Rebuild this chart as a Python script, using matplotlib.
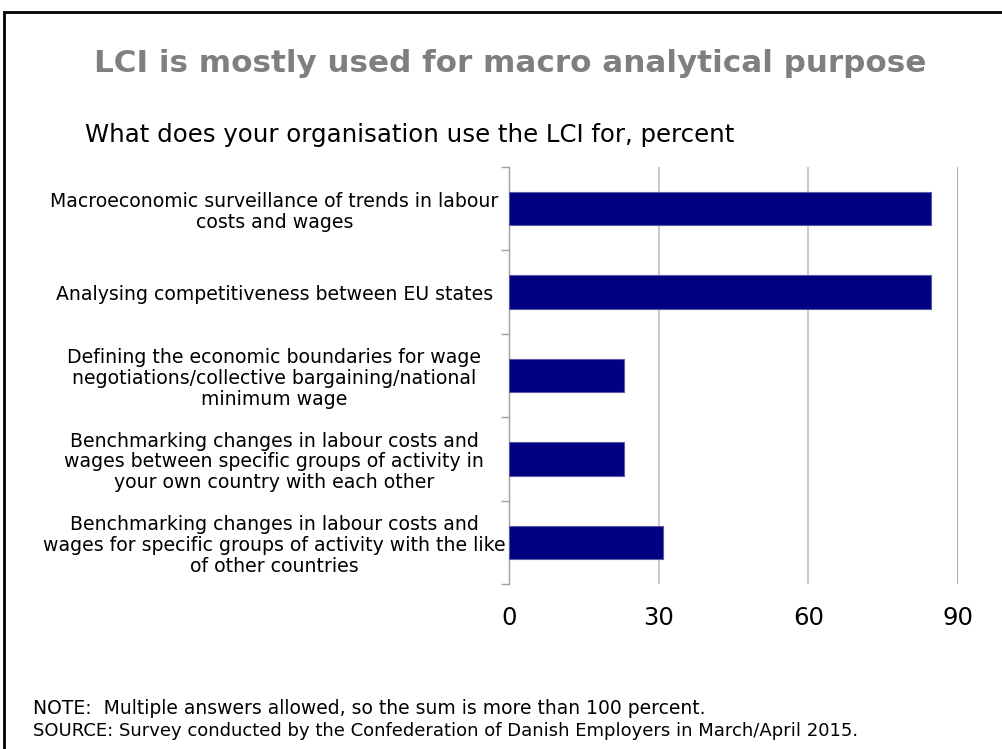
import matplotlib.pyplot as plt
from matplotlib.patches import Rectangle
import numpy as np

# survey answers, percent of respondents
categories = [
    "Macroeconomic surveillance of trends in labour\ncosts and wages",
    "Analysing competitiveness between EU states",
    "Defining the economic boundaries for wage\nnegotiations/collective bargaining/national\nminimum wage",
    "Benchmarking changes in labour costs and\nwages between specific groups of activity in\nyour own country with each other",
    "Benchmarking changes in labour costs and\nwages for specific groups of activity with the like\nof other countries",
]
values = [84.6, 84.6, 23.1, 23.1, 30.8]
x_ticks = [0, 30, 60, 90]

fig = plt.figure(figsize=(10.02, 7.49), dpi=100)
W, H = 1002, 749

# frame round the slide
fig.add_artist(Rectangle((4 / W, -0.1), 1.2, (H - 12) / H + 0.1, transform=fig.transFigure,
                         fill=False, edgecolor="black", linewidth=2))

fig.text(510 / W, 1 - 63 / H, "LCI is mostly used for macro analytical purpose",
         ha="center", va="center", fontsize=22.3, fontweight="bold", color="#7f7f7f")
fig.text(85 / W, 1 - 135 / H, "What does your organisation use the LCI for, percent",
         ha="left", va="center", fontsize=17.6, color="black")

ax = fig.add_axes([509 / W, 1 - 584 / H, (958 - 509) / W, (584 - 167) / H])
y = np.arange(len(categories))
ax.barh(y, values, height=0.4, color="#000080", edgecolor="#5a5aa8", linewidth=0.8, zorder=3)
ax.set_ylim(len(categories) - 0.5, -0.5)
ax.set_xlim(0, 90)

ax.set_xticks(x_ticks)
ax.set_xticklabels([str(t) for t in x_ticks], fontsize=17.5)
ax.tick_params(axis="x", length=0, pad=16)
ax.set_yticks(y)
ax.set_yticklabels(categories, fontsize=13.6, ha="center", multialignment="center",
                   linespacing=1.12)
ax.tick_params(axis="y", which="major", length=0, pad=169)
ax.set_yticks(np.arange(-0.5, len(categories), 1), minor=True)
ax.tick_params(axis="y", which="minor", length=6, color="#a0a0a0", width=1)

for t in x_ticks[1:3]:
    ax.axvline(t, color="#c0c0c0", linewidth=1.2, zorder=1)
ax.axvline(90, color="#a0a0a0", linewidth=1.2, zorder=1)

for side in ["top", "right", "bottom"]:
    ax.spines[side].set_visible(False)
ax.spines["left"].set_color("#a0a0a0")
ax.spines["left"].set_linewidth(1)

fig.text(33 / W, 1 - 708 / H,
         "NOTE:  Multiple answers allowed, so the sum is more than 100 percent.",
         ha="left", va="center", fontsize=13.5)
fig.text(33 / W, 1 - 731 / H,
         "SOURCE: Survey conducted by the Confederation of Danish Employers in March/April 2015.",
         ha="left", va="center", fontsize=13.0)

fig.savefig("out.png", dpi=100)
